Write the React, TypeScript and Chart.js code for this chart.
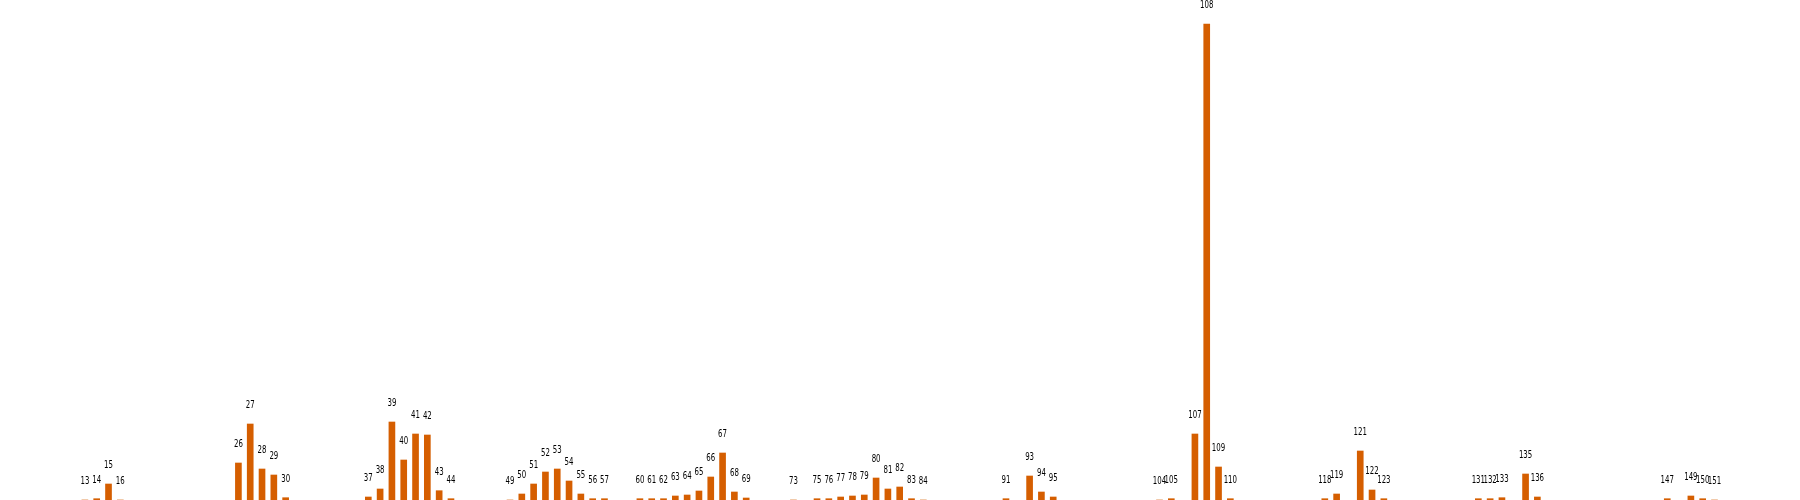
import React, { useEffect, useRef } from "react";
import { Chart, registerables } from "chart.js";

Chart.register(...registerables);

const indices: number[] = [
  13, 14, 15, 16, 26, 27, 28, 29, 30, 37, 38, 39, 40, 41, 42, 43, 44, 49, 50, 51,
  52, 53, 54, 55, 56, 57, 60, 61, 62, 63, 64, 65, 66, 67, 68, 69, 73, 75, 76, 77,
  78, 79, 80, 81, 82, 83, 84, 91, 93, 94, 95, 104, 105, 107, 108, 109, 110, 118,
  119, 121, 122, 123, 131, 132, 133, 135, 136, 147, 149, 150, 151,
];

const values: number[] = [
  0, 1.3, 16, 0, 37, 76, 31, 25, 2.3, 3, 11, 78, 40, 66, 65, 9.3, 1.3, 0, 6, 16,
  28, 31, 19, 6, 1.3, 1.3, 1.3, 1.3, 1.3, 4, 5, 9, 23, 47, 8, 2, 0, 1.3, 1.3, 3,
  4, 5, 22, 11, 13, 1.3, 0, 1.3, 24, 8, 3, 0, 1.3, 66, 476, 33, 1.3, 1.3,
  6, 49, 10, 1.3, 1.3, 1.3, 2.3, 26, 3, 1.3, 4, 1.3, 0,
];

const pointLabels: string[] = indices.map((v) => String(v));

const X_MIN = 5.811;
const X_MAX = 158.24;
const Y_MAX = 500;

export default function App() {
  const ref = useRef<HTMLCanvasElement | null>(null);

  useEffect(() => {
    if (!ref.current) return;
    const labelPlugin = {
      id: "indexLabels",
      afterDatasetsDraw(chart: any) {
        const ctx = chart.ctx;
        const meta = chart.getDatasetMeta(0);
        ctx.save();
        ctx.font = '10px "DejaVu Sans"';
        ctx.fillStyle = "#000000";
        ctx.textAlign = "center";
        ctx.textBaseline = "alphabetic";
        meta.data.forEach((el: any, i: number) => {
          ctx.save();
          ctx.translate(el.x, el.y - 15.85);
          ctx.scale(0.7, 1);
          ctx.fillText(pointLabels[i], 0, 0);
          ctx.restore();
        });
        ctx.restore();
      },
    };

    const chart = new Chart(ref.current, {
      type: "bar",
      data: {
        datasets: [
          {
            data: indices.map((x, i) => ({ x, y: values[i] })),
            backgroundColor: "#d55e00",
            borderWidth: 0,
            barThickness: 6,
          },
        ],
      },
      options: {
        animation: false,
        responsive: false,
        maintainAspectRatio: false,
        layout: { padding: 0 },
        plugins: {
          legend: { display: false },
          tooltip: { enabled: false },
        },
        scales: {
          x: { type: "linear", min: X_MIN, max: X_MAX, display: false, offset: false },
          y: { type: "linear", min: 0, max: Y_MAX, display: false },
        },
      },
      plugins: [labelPlugin],
    });
    return () => chart.destroy();
  }, []);

  return (
    <div style={{ position: "fixed", left: 0, top: 0, width: 1800, height: 500, background: "#fff" }}>
      <canvas ref={ref} width={1800} height={500} style={{ width: 1800, height: 500 }} />
    </div>
  );
}
